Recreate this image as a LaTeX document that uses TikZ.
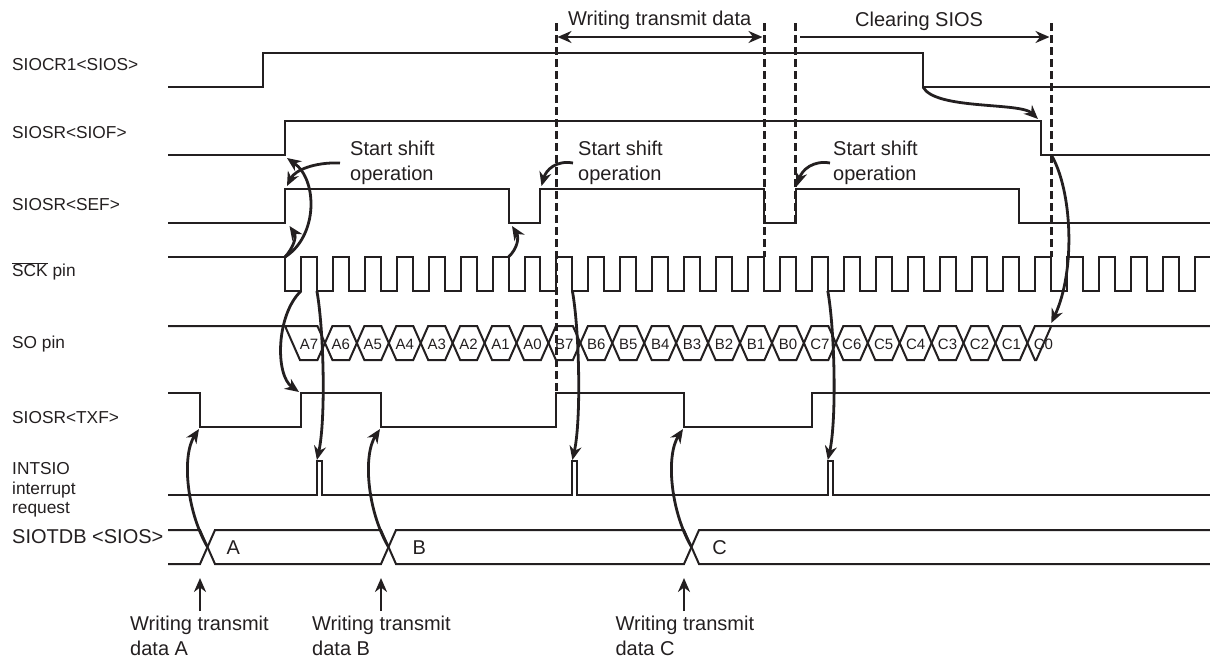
\documentclass[tikz,border=0pt]{standalone}
\usepackage{fontspec}
\setmainfont{Liberation Sans}
\usetikzlibrary{arrows.meta}
\definecolor{ink}{RGB}{35,31,32}
\newcommand{\ovl}[1]{\ensuremath{\overline{\mbox{#1}}}}
\begin{document}
\begin{tikzpicture}[x=1pt,y=-1pt,
  sig/.style={draw=ink,line width=2pt},
  cause/.style={draw=ink,line width=2.8pt,-{Stealth[length=14pt,width=12pt]}},
  dcause/.style={draw=ink,line width=2.8pt,{Stealth[length=14pt,width=12pt]}-{Stealth[length=14pt,width=12pt]}},
  dashln/.style={draw=ink,line width=3pt,dash pattern=on 8pt off 4pt},
  lbl/.style={font=\fontsize{17.3}{19.5}\selectfont,text=ink,inner sep=0pt,anchor=base west},
  lblm/.style={font=\fontsize{17.3}{19.5}\selectfont,text=ink,inner sep=0pt,anchor=north west,align=left},
  ann/.style={font=\fontsize{20}{25}\selectfont,text=ink,inner sep=0pt,align=left},
  bit/.style={font=\fontsize{15}{15}\selectfont,text=ink,inner sep=0pt},
  busl/.style={font=\fontsize{20}{20}\selectfont,text=ink,inner sep=0pt}]
\useasboundingbox (0,0) rectangle (1210,662);

% ---------- row labels ----------
\node[lbl] (l0) at (12,70) {SIOCR1<SIOS>};
\node[lbl] (l1) at (12,138.3) {SIOSR<SIOF>};
\node[lbl] (l2) at (12,210) {SIOSR<SEF>};
\node[lbl] (l3) at (12,276.7) {\ovl{SCK} pin};
\node[lbl] (l4) at (12,348.3) {SO pin};
\node[lbl] (l5) at (12,423.3) {SIOSR<TXF>};
\node[lblm] (l6) at (12,462.5) {INTSIO\\interrupt\\request};
\node[lbl,font=\fontsize{20}{20}\selectfont] (l7) at (12,543.3) {SIOTDB <SIOS>};

% ---------- signals ----------
% SIOCR1<SIOS>
\draw[sig] (168,87) -- (263,87) -- (263,53) -- (923,53) -- (923,87) -- (1210,87);
% SIOSR<SIOF>
\draw[sig] (168,155) -- (285,155) -- (285,121) -- (1041,121) -- (1041,155) -- (1210,155);
% SIOSR<SEF>
\draw[sig] (168,223) -- (285,223) -- (285,189) -- (508.5,189) -- (508.5,223) -- (540.4,223) -- (540.4,189)
  -- (764,189) -- (764,223) -- (795.9,223) -- (795.9,189) -- (1019.4,189) -- (1019.4,223) -- (1210,223);
% SCK
\draw[sig] (168,257) \foreach \n in {0,...,28} { -- ({285+31.93*\n},257) -- ({285+31.93*\n},291)
  -- ({301+31.93*\n},291) -- ({301+31.93*\n},257) } -- (1210,257);
% SO pin bus
\draw[sig] (168,326) -- ({324.93-7.5},326) -- (324.93,343) -- ({324.93-7.5},360) -- (300,360) -- (285,326);
\foreach \n in {1,...,22} {
  \pgfmathsetmacro\ca{285+31.93*\n+8}
  \pgfmathsetmacro\cb{285+31.93*(\n+1)+8}
  \draw[sig] (\ca,343) -- ({\ca+7.5},326) -- ({\cb-7.5},326) -- (\cb,343) -- ({\cb-7.5},360) -- ({\ca+7.5},360) -- cycle;
}
\draw[sig] (1210,326) -- ({1027.39+7.5},326) -- (1027.39,343) -- ({1027.39+7.5},360) -- (1036.3,360) -- (1051.3,326);
\foreach \lab [count=\k from 0] in {A7,A6,A5,A4,A3,A2,A1,A0,B7,B6,B5,B4,B3,B2,B1,B0,C7,C6,C5,C4,C3,C2,C1,C0} {
  \node[bit] (bit\lab) at ({285+31.93*\k+23.97},344.5) {\lab};
}
% SIOSR<TXF>
\draw[sig] (168,393) -- (200,393) -- (200,427) -- (301,427) -- (301,393) -- (381,393) -- (381,427)
  -- (556.4,427) -- (556.4,393) -- (684,393) -- (684,427) -- (811.9,427) -- (811.9,393) -- (1210,393);
% INTSIO
\draw[sig] (168,495) -- (316.9,495) -- (316.9,461) -- (321.9,461) -- (321.9,495) -- (572.4,495) -- (572.4,461)
  -- (577.4,461) -- (577.4,495) -- (827.8,495) -- (827.8,461) -- (832.8,461) -- (832.8,495) -- (1210,495);
% SIOTDB bus
\draw[sig] (168,530) -- (200,530) -- (215,564) -- (381,564) -- (396,530) -- (684,530) -- (699,564) -- (1210,564);
\draw[sig] (168,564) -- (200,564) -- (215,530) -- (381,530) -- (396,564) -- (684,564) -- (699,530) -- (1210,530);
\node[busl] (da) at (233.3,548) {A};
\node[busl] (db) at (419.3,548) {B};
\node[busl] (dc) at (719.6,548) {C};

% ---------- dashed markers ----------
\coordinate (d1t) at (556.4,23); \coordinate (d1b) at (556.4,393);
\coordinate (d2t) at (764,23);   \coordinate (d2b) at (764,257);
\coordinate (d3t) at (795.9,23); \coordinate (d3b) at (795.9,223);
\coordinate (d4t) at (1051.3,23);\coordinate (d4b) at (1051.3,257);
\draw[dashln] (d1t) -- (d1b);
\draw[dashln] (d2t) -- (d2b);
\draw[dashln] (d3t) -- (d3b);
\draw[dashln] (d4t) -- (d4b);

\coordinate (wL) at (557.5,37); \coordinate (wR) at (762.5,37);
\coordinate (cL) at (800,37);   \coordinate (cR) at (1049.5,37);
\draw[dcause] (wL) -- (wR);
\draw[cause] (cL) -- (cR);
\node[ann,anchor=base west] (twtd) at (568,25) {Writing transmit data};
\node[ann,anchor=base west] (tcs) at (855,26) {Clearing SIOS};

% ---------- start shift annotations ----------
\node[ann,anchor=north west] (ss1) at (350,140.5) {Start shift\\operation};
\node[ann,anchor=north west] (ss2) at (578,140.5) {Start shift\\operation};
\node[ann,anchor=north west] (ss3) at (833,140.5) {Start shift\\operation};
\coordinate (ss1a) at (340,163); \coordinate (sef1) at (287,186);
\coordinate (ss2a) at (573,163); \coordinate (sef2) at (541.5,186);
\coordinate (ss3a) at (830,163); \coordinate (sef3) at (797,186);
\draw[cause] (ss1a) .. controls (315,162) and (295,170) .. (sef1);
\draw[cause] (ss2a) .. controls (556,160) and (546,170) .. (sef2);
\draw[cause] (ss3a) .. controls (813,160) and (802,170) .. (sef3);

% ---------- causal arrows ----------
\coordinate (sck0) at (285,257);
\coordinate (sefl1) at (289.5,226);
\coordinate (siofr) at (287,158);
\draw[cause] (sck0) .. controls (293,248) and (297,237) .. (sefl1);
\draw[cause] (sck0) .. controls (318,236) and (318,180) .. (siofr);
\coordinate (sck7) at (508.5,257);
\coordinate (sefl2) at (512,226);
\draw[cause] (sck7) .. controls (518,248) and (519,237) .. (sefl2);

\coordinate (sios0) at (923,87);  \coordinate (siof1) at (1038,119);
\draw[cause] (sios0) .. controls (935,110) and (1020,102) .. (siof1);
\coordinate (siofl) at (1051.3,155); \coordinate (soend) at (1051.3,323);
\draw[cause] (siofl) .. controls (1072,190) and (1076,270) .. (soend);

\coordinate (sckr0) at (301,291); \coordinate (txfr0) at (299,392);
\draw[cause] (sckr0) .. controls (276,315) and (275,375) .. (txfr0);

\foreach \xx/\nm in {316.9/a,572.4/b,827.8/c} {
  \coordinate (sckf\nm) at (\xx,291);
  \coordinate (int\nm) at (\xx,460);
  \draw[cause] (sckf\nm) .. controls ({\xx+7},330) and ({\xx+9},420) .. (int\nm);
}

\foreach \xx/\nm in {200/a,381/b,684/c} {
  \coordinate (xc\nm) at ({\xx+7.5},547);
  \coordinate (txf\nm) at ({\xx-1},429);
  \draw[cause] (xc\nm) .. controls ({\xx-14},510) and ({\xx-18},455) .. (txf\nm);
  \coordinate (wb\nm) at (\xx,611);
  \coordinate (wt\nm) at (\xx,578);
  \draw[cause] (wb\nm) -- (wt\nm);
}
\node[ann,anchor=north west] (wa) at (130,615.7) {Writing transmit\\data A};
\node[ann,anchor=north west] (wbb) at (312,615.7) {Writing transmit\\data B};
\node[ann,anchor=north west] (wc) at (615.4,615.7) {Writing transmit\\data C};
\end{tikzpicture}
\end{document}
